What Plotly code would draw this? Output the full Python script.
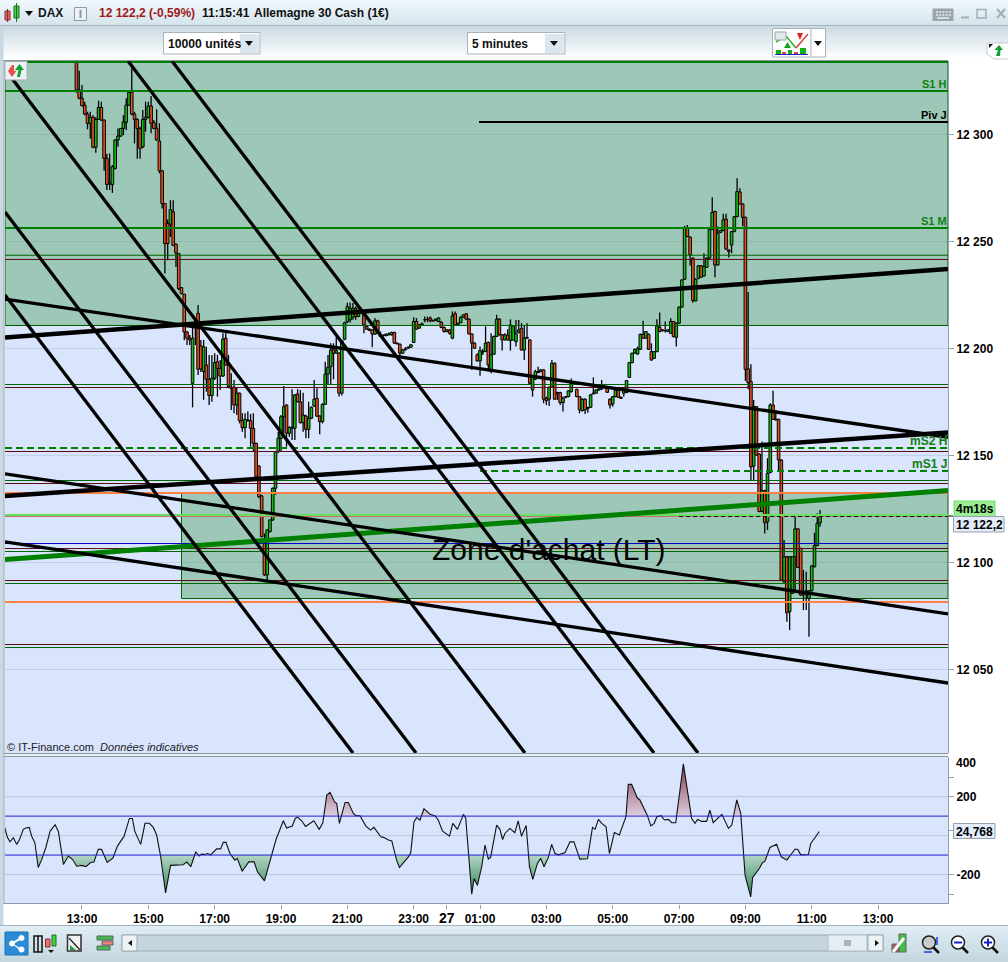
import plotly.graph_objects as go

# ---------- DATA: 5-minute DAX bars, first bar at 12:50 (hours counted from midnight of day 26) ----------
bar_first_hour = 12 + 50 / 60
bar_step_hours = 5 / 60

opens = [
12340,12320.8,12316.9,12313.7,12309.5,12305.2,12308,12294,12307,12312.6,
12306.7,12288.8,12276.8,12276.6,12284.1,12297.4,12299.2,12302.8,12305.6,12313.7,
12319.7,12309.5,12307,12302.7,12294.2,12307,12308,12313.3,12305.5,12302.8,
12296.9,12283,12267.7,12258.4,12258,12263.8,12248.7,12244.3,12228.4,12225.3,
12207.7,12204.8,12183.7,12210,12216.4,12201.2,12189.2,12192.3,12185.6,12178,
12186.1,12193.8,12190.7,12187.1,12204.8,12192.3,12181.9,12181.9,12173.6,12179.1,
12166.3,12163,12166.6,12166.3,12162.7,12155.7,12145.1,12131.1,12109,12094.2,
12114.4,12119.9,12134.7,12151.8,12158,12168.1,12173.5,12160.4,12163.2,12162.7,
12178.7,12175.1,12165.3,12168.4,12162.2,12167.4,12173.1,12176.7,12168.4,12165.8,
12173.9,12188,12191.5,12199.6,12197.8,12197.8,12179.1,12204.3,12212.5,12213.4,
12214.6,12218.8,12214.9,12218,12216.5,12210.3,12209,12208.7,12206.7,12212.9,
12206.4,12205.9,12206,12206.4,12206.4,12207.5,12202.5,12202,12197.8,12199.4,
12200.1,12200.6,12202.8,12212.6,12209.5,12211,12213.4,12213.4,12214.2,12212.9,
12213,12212.6,12212.3,12209.8,12207.9,12208.7,12204.8,12216.2,12211,12212.1,
12214.6,12216.2,12213.7,12206.8,12202.5,12197,12194.2,12198.3,12198.6,12202.8,
12190,12197.3,12205.6,12213.7,12206.4,12204,12206.3,12203.7,12204,12203.2,
12207.4,12209.4,12199.3,12204.8,12204,12180.6,12185.6,12188.7,12189.2,12190,
12176.7,12176.3,12181.9,12193.1,12179.4,12179.4,12174.7,12177.2,12177.5,12179.8,
12183.4,12180.9,12177.5,12171,12176.3,12172,12172.5,12178.8,12179.1,12180.6,
12181.1,12182.2,12182.2,12176.3,12174.1,12177.5,12180.6,12177.2,12179.1,12179.4,
12186.5,12193.4,12197.8,12197.4,12199.6,12206.6,12204.8,12206.6,12198.5,12195.4,
12198.5,12209.9,12208.7,12208.3,12207.9,12207.1,12212.6,12205.2,12211.8,12219.3,
12232.3,12256.2,12252,12242.2,12222.2,12232.8,12238.6,12233.9,12237.9,12242.2,
12255.7,12264,12239,12254.2,12255.1,12260.4,12246,12248.4,12254.6,12261.6,
12273.1,12267.5,12261.3,12190.5,12184.5,12145,12172.8,12150.7,12123.8,12133.6,
12119,12142,12173.6,12166.6,12166.9,12147.9,12091,12102.7,12077,12085.6,
12102.7,12115.7,12106.6,12084.8,12085.6,12083.2,12086.8,12098,12107.9,12118.6,
]
closes = [
12320.8,12316.9,12313.4,12309.5,12305.2,12308,12294,12307,12312.6,12306.7,
12288.8,12276.6,12277.4,12284.9,12297.4,12299.2,12302.8,12305.9,12313.7,12319.7,
12309.5,12307,12302.7,12293.5,12307,12308,12313.3,12305.2,12302.8,12297.4,
12283,12267.7,12249,12249,12264.9,12248.2,12244.6,12227.9,12225.6,12207.7,
12204.8,12204,12204.8,12212.4,12190.3,12190.4,12200.8,12185.6,12178,12186.1,
12193.4,12190.7,12187.1,12204.4,12192.3,12182.2,12181.4,12173.6,12179.1,12166.3,
12163,12166.9,12166.3,12162.7,12155.7,12140.1,12130.8,12112.1,12094.2,12115.2,
12119.9,12134.7,12151.8,12158,12168.1,12172.8,12160.4,12163.2,12162.7,12178.3,
12175.1,12165.3,12168.9,12162.2,12167.4,12172.5,12176.3,12168.4,12165.8,12173.9,
12188,12191.2,12199.3,12197.8,12199,12179.1,12203.6,12212,12219.5,12218.8,
12218.8,12214.9,12216.2,12216.5,12211,12209,12208.4,12206.7,12212.9,12207.9,
12205.6,12206.2,12206.7,12206.8,12207.5,12202.5,12202.2,12197.8,12199.4,12199.8,
12200.6,12201.7,12212.6,12209,12211,12211.5,12213.4,12213.5,12212.9,12213,
12213.7,12214.2,12209.8,12207.9,12208.7,12207.1,12215.2,12211,12211.8,12214.6,
12215.7,12213.7,12206.8,12202.5,12200.1,12194.2,12199,12198.6,12202.5,12192.3,
12197,12205.6,12213.7,12206.4,12204,12206.3,12204,12211,12210.5,12206.8,
12208.7,12199.3,12204.8,12205.2,12183.7,12186.9,12189.2,12189.2,12190,12176.3,
12175.6,12181.9,12193.1,12176.3,12178.8,12174.7,12176.7,12177.5,12180.2,12183.7,
12183.7,12177.5,12171.3,12176.3,12171.3,12172.4,12178.3,12179.1,12180.6,12181.1,
12182.2,12182.3,12179.5,12173.6,12177.5,12180.6,12177.2,12176.7,12180.6,12185,
12193.4,12197.8,12199.6,12199.9,12206.6,12204.8,12207.9,12199.6,12194.6,12198.5,
12210.5,12207.9,12208.3,12208.4,12208.7,12212.6,12205.5,12211.8,12219.3,12232,
12256.2,12252.3,12243.7,12222.4,12232.3,12238.6,12233.3,12238.2,12242.2,12255.7,
12263.5,12239,12253.8,12255.1,12260.1,12246.4,12245.3,12254.6,12261.6,12273.3,
12267.5,12261.3,12190.2,12184,12144.7,12172.8,12150.2,12123.8,12133.6,12118.6,
12141.7,12173.6,12166.9,12166.9,12147.9,12091.8,12102.7,12076.5,12102.7,12102.7,
12115.7,12097.7,12084.8,12085.6,12086.8,12086.8,12098.4,12107.9,12118.3,12122.2,
]
highs = [
12345,12329.8,12323.1,12315.3,12310.6,12310.6,12309,12308,12315.8,12315.3,
12307,12291,12291.1,12285.7,12297.7,12302.8,12303,12309,12316.9,12320,
12330.9,12310.6,12307.5,12303.6,12311.4,12315.3,12315.3,12318,12306.7,12311.7,
12305.2,12283.3,12268,12260.2,12269.3,12269.3,12249,12244.6,12228.7,12225.6,
12208,12206.3,12211,12213.3,12220.3,12204,12204,12200.8,12197,12197,
12197.8,12197,12194.6,12207.1,12207.8,12197,12188.4,12185.3,12181.9,12179.5,
12169.7,12169.7,12170.5,12169.4,12169.7,12156,12145.4,12131.5,12113.6,12115.5,
12120,12135,12152,12161.1,12168.9,12182.5,12174,12163.5,12181,12178.7,
12181,12180.6,12179.3,12169,12175.1,12172.9,12185.3,12181.4,12168.8,12174.4,
12193.8,12197,12202.4,12202.4,12205.5,12198.2,12204,12212.5,12221.4,12221.5,
12221.2,12219.6,12218,12218.8,12218,12210.6,12209.4,12209,12214.2,12213.4,
12207.9,12206.5,12207,12207.5,12207.8,12207.8,12202.8,12202.3,12199.7,12200.6,
12200.9,12202,12214.6,12214.2,12211.3,12212.1,12214.9,12214.9,12214.9,12213.5,
12214,12214.6,12212.6,12210.1,12209,12209,12217.3,12217.3,12212,12215,
12216,12216.6,12214,12207,12202.8,12197.8,12200.9,12199.7,12210.3,12203.2,
12207.1,12206,12215.7,12214.2,12206.7,12207.1,12209,12213.6,12211,12213.3,
12213.3,12211.8,12211,12211.8,12204.3,12187.1,12190,12191.5,12190.3,12190.3,
12177.5,12182.2,12194.6,12193.4,12179.8,12179.8,12177.5,12177.8,12180.6,12186,
12184,12181.2,12177.8,12176.7,12176.7,12172.8,12178.8,12186.5,12180.9,12181.4,
12185.3,12183,12182.5,12176.6,12177.8,12180.9,12180.9,12177.5,12180.9,12185.3,
12193.7,12198,12200,12200.9,12207,12212.9,12208.2,12207,12202.4,12198.8,
12213.6,12216.8,12209,12212.6,12209,12214.1,12212.9,12212.1,12219.6,12232.3,
12257.3,12257.7,12252.3,12242.5,12232.8,12239,12239,12244.5,12242.5,12256,
12270.7,12264.3,12257,12255.4,12262.9,12262.9,12246.4,12254.9,12261.9,12279.5,
12274.8,12267.8,12261.6,12226.4,12192.6,12175.9,12173.1,12151,12156.5,12134,
12148.7,12174.4,12180.2,12171.3,12167.2,12148.2,12110.5,12103,12103,12103,
12122.2,12116,12106.9,12096.5,12095.7,12087.1,12098.7,12113.9,12123,12124.5,
]
lows = [
12319.5,12316.4,12313,12309,12302.4,12298.1,12293.5,12291.4,12306.7,12306.4,
12283,12274,12274,12272.7,12283.6,12294.2,12298.9,12299.7,12302,12313.4,
12309,12295.8,12288.6,12288.6,12293.5,12301.3,12307.5,12300.5,12302.4,12297,
12281.8,12265.4,12235,12241.2,12252.1,12247.8,12238.1,12227.2,12225.3,12203.8,
12201.6,12201.6,12172.5,12201.6,12187.6,12189,12176,12179.8,12173.6,12175.1,
12185.3,12177.5,12180.6,12186.8,12192,12181.4,12171.3,12169.7,12168.9,12165,
12161.1,12158,12165.8,12154.1,12151.8,12139.8,12130,12111.8,12093.7,12091.8,
12114,12119.5,12131.6,12151,12151.8,12160.4,12154.1,12158.8,12157.2,12157.2,
12174.8,12165,12161.1,12158,12158,12167,12172.8,12168,12159.9,12165,
12173.6,12182.9,12183,12185.6,12197.5,12177.5,12178,12203.9,12211.8,12212.1,
12213.4,12213.4,12214.6,12216.2,12207.1,12208.7,12208.1,12200.6,12206.4,12207.5,
12205.3,12205.6,12205.7,12206,12206,12202.2,12201.9,12195.5,12197.5,12199,
12200.1,12200.3,12202.5,12208.7,12209.2,12210.6,12212.3,12212.3,12212.3,12212.6,
12213,12212.3,12209.5,12207.5,12207.6,12206.4,12204.3,12210.7,12210.7,12211.8,
12214.3,12213.4,12206.5,12190,12199.8,12193.9,12187.2,12197,12198.3,12189.2,
12188.4,12197,12205.3,12206,12199,12203.7,12203.7,12199,12203.7,12200.9,
12207.1,12199,12194.6,12204.5,12183.4,12177.5,12185.3,12188.4,12188.9,12174.4,
12173.6,12173.1,12181.6,12176,12175.9,12173.6,12170.5,12176.7,12177.2,12179.4,
12183.1,12177.2,12169.7,12170.6,12169.4,12170,12172.2,12178.5,12178.8,12180.3,
12180.6,12181.4,12179.2,12172,12172.8,12177.2,12176.9,12176.4,12177.5,12179.1,
12186.2,12193.1,12197.5,12197.1,12199.3,12204.5,12204.5,12199.3,12194.3,12195.1,
12198.2,12207.6,12207.9,12207.4,12207.8,12206.8,12205.2,12200.9,12211.5,12219,
12232,12252,12238.6,12221.4,12222,12232.3,12233,12233.6,12237.6,12241.9,
12255.4,12233.3,12238.7,12253.9,12254.8,12246,12242.5,12244.5,12254.3,12261.3,
12267.2,12257.2,12184.9,12180.9,12138.5,12138.5,12149.9,12123.5,12123.5,12113.6,
12115.2,12141.7,12166.6,12166.3,12143.2,12091.5,12090.7,12072.3,12068.4,12085.3,
12087,12097.4,12084.5,12077.8,12077.8,12065.3,12086.5,12097.7,12107.6,12116.7,
]

# Indicator (CCI-like) vertices: hour, value
cci_hours = [
10.67,10.75,10.83,10.93,11.03,11.11,11.23,11.31,11.41,11.48,11.58,11.68,11.78,11.91,12.04,12.19,12.29,12.44,12.59,12.72,
12.84,12.99,13.12,13.26,13.36,13.49,13.59,13.76,13.93,14.07,14.27,14.43,14.52,14.59,14.77,14.90,15.03,15.15,15.25,15.37,
15.52,15.67,16.05,16.16,16.28,16.43,16.53,16.61,16.71,16.78,16.88,17.06,17.18,17.26,17.34,17.46,17.61,17.68,17.83,18.03,
18.19,18.29,18.50,18.65,18.85,19.07,19.17,19.34,19.43,19.50,19.62,19.74,19.99,20.15,20.26,20.38,20.48,20.61,20.68,20.76,
20.93,21.03,21.18,21.26,21.38,21.56,21.70,21.80,22.01,22.09,22.24,22.34,22.49,22.57,22.84,22.91,23.01,23.09,23.19,23.31,
23.49,23.64,23.74,23.87,24.08,24.18,24.32,24.50,24.57,24.75,24.82,24.92,25.05,25.15,25.25,25.32,25.50,25.60,25.68,25.75,
25.90,26.05,26.15,26.25,26.39,26.49,26.59,26.73,26.83,26.93,27.06,27.16,27.26,27.36,27.56,27.71,27.83,28.01,28.24,28.39,
28.47,28.57,28.67,28.80,28.90,29.05,29.20,29.40,29.47,29.57,29.74,29.82,29.92,30.04,30.15,30.25,30.33,30.46,30.56,30.68,
30.78,30.90,31.13,31.38,31.48,31.56,31.68,31.83,31.93,32.03,32.29,32.49,32.59,32.74,32.86,32.99,33.16,33.22,33.42,33.51,
33.59,33.74,33.94,34.08,34.25,34.50,34.58,34.67,34.90,34.97,35.23,
]
cci_values = [
42,-9,-32,-11,-45,-23,32,39,42,-2,-37,-164,-126,-61,23,56,20,-148,-105,-123,
-157,-153,-159,-138,-136,-71,-71,-138,-116,-54,-3,88,88,23,-45,63,63,42,3,-105,
-294,-153,-150,-136,-160,-83,-105,-95,-97,-92,-99,-68,-68,-35,-35,-92,-126,-117,-183,-135,
-135,-186,-232,-135,-20,76,39,49,88,95,76,47,76,32,66,208,222,174,165,63,
170,170,114,102,102,49,28,42,-6,-9,-23,-27,-130,-164,-109,-88,71,93,80,138,
110,102,80,23,-3,63,32,109,88,-301,-220,-255,-160,-49,-121,-112,54,32,-20,11,
37,15,76,-3,52,-160,-225,-143,-117,-160,-112,-45,-92,-99,-88,-32,-32,-121,-119,42,
33,83,63,45,-92,16,3,97,263,263,194,183,148,105,50,63,97,102,80,83,
66,66,368,88,63,83,73,73,131,66,109,37,54,183,114,-203,-315,-215,-169,-140,
-131,-61,-45,-109,-126,-69,-71,-99,-97,-40,21,
]

hour_ticks = [13, 15, 17, 19, 21, 23, 24, 25, 27, 29, 31, 33, 35, 37]
hour_labels = ["13:00", "15:00", "17:00", "19:00", "21:00", "23:00",
               "<span style='font-size:14px'>27</span>", "01:00", "03:00", "05:00", "07:00", "09:00", "11:00", "13:00"]
price_ticks = [12300, 12250, 12200, 12150, 12100, 12050]
price_labels = ["12 300", "12 250", "12 200", "12 150", "12 100", "12 050"]

HOUR_MIN, HOUR_MAX = 10.679, 39.108
PRICE_MIN, PRICE_MAX = 12011.0, 12334.3
CCI_MIN, CCI_MAX = -348.6, 405.0

GREEN_DASH, NOW_DASH = "7px,4px", "4px,3px"

# Horizontal levels: price, colour, width, dash, first hour
levels = [
    (12333.83, "#008000", 2, "solid", HOUR_MIN),
    (12320.28, "#008000", 2, "solid", HOUR_MIN),
    (12305.80, "#000000", 2, "solid", 24.97),
    (12256.28, "#008000", 2, "solid", HOUR_MIN),
    (12243.55, "#006400", 1, "solid", HOUR_MIN),
    (12241.57, "#5a0a14", 1, "solid", HOUR_MIN),
    (12210.73, "#006400", 1, "solid", HOUR_MIN),
    (12183.16, "#006400", 1, "solid", HOUR_MIN),
    (12181.76, "#5a0a14", 1, "solid", HOUR_MIN),
    (12153.49, "#008000", 2, GREEN_DASH, HOUR_MIN),
    (12151.86, "#5a0a14", 1, "solid", HOUR_MIN),
    (12142.75, "#008000", 2, GREEN_DASH, 25.0),
    (12138.30, "#006400", 1, "solid", HOUR_MIN),
    (12136.90, "#5a0a14", 1, "solid", HOUR_MIN),
    (12132.47, "#ff8040", 2, "solid", HOUR_MIN),
    (12122.20, "#66e060", 2, "solid", HOUR_MIN),
    (12121.48, "#c87070", 1, "solid", HOUR_MIN),
    (12121.48, "#101010", 1, NOW_DASH, 31.0),
    (12108.87, "#0000c0", 1, "solid", HOUR_MIN),
    (12106.53, "#5a0a14", 1, "solid", HOUR_MIN),
    (12105.13, "#006400", 1, "solid", HOUR_MIN),
    (12091.58, "#5a0a14", 1, "solid", HOUR_MIN),
    (12090.20, "#006400", 1, "solid", HOUR_MIN),
    (12081.54, "#ff8040", 2, "solid", HOUR_MIN),
    (12061.68, "#5a0a14", 1, "solid", HOUR_MIN),
    (12060.28, "#006400", 1, "solid", HOUR_MIN),
]
# Sloped lines: start hour, start price, end hour, end price, colour, width
trendlines = [
    (HOUR_MIN, 12205.1, HOUR_MAX, 12237.1, "#000000", 4.5),
    (HOUR_MIN, 12131.1, HOUR_MAX, 12160.7, "#000000", 4.5),
    (HOUR_MIN, 12101.4, HOUR_MAX, 12133.6, "#008000", 5),
    (HOUR_MIN, 12223.1, HOUR_MAX, 12158.5, "#000000", 3.3),
    (HOUR_MIN, 12141.4, HOUR_MAX, 12076.0, "#000000", 3.3),
    (HOUR_MIN, 12109.6, HOUR_MAX, 12043.7, "#000000", 3.3),
    (HOUR_MIN, 12225.0, 21.17, 12011.0, "#000000", 3.3),
    (HOUR_MIN, 12263.8, 23.07, 12011.0, "#000000", 3.3),
    (HOUR_MIN, 12330.4, 26.355, 12011.0, "#000000", 3.3),
    (14.387, 12334.3, 30.245, 12011.0, "#000000", 3.3),
    (15.713, 12334.3, 31.571, 12011.0, "#000000", 3.3),
]
zones = [
    (HOUR_MIN, HOUR_MAX, 12210.73, 12334.3),
    (16.0, HOUR_MAX, 12083.18, 12132.47),
]

# ---------- FIGURE ----------
W, H = 1008, 962
FONT = "Liberation Sans"
def X(px): return px / W
def Y(py): return 1 - py / H

bar_hours = [bar_first_hour + i * bar_step_hours for i in range(len(opens))]

wx, wy = [], []
for t, o, c, h, l in zip(bar_hours, opens, closes, highs, lows):
    top, bot = max(o, c), min(o, c)
    if h > top:
        wx += [t, t, None]; wy += [h, top, None]
    if l < bot:
        wx += [t, t, None]; wy += [bot, l, None]

fig = go.Figure()
fig.add_trace(go.Bar(
    x=bar_hours, y=[c - o for o, c in zip(opens, closes)], base=opens, width=bar_step_hours * 0.95,
    marker=dict(color=["#10c010" if c >= o else "#e8501e" for o, c in zip(opens, closes)],
                line=dict(color="#000000", width=1)),
    xaxis="x", yaxis="y", showlegend=False))
fig.add_trace(go.Scatter(x=wx, y=wy, mode="lines", line=dict(color="#000000", width=1.3),
                         xaxis="x", yaxis="y", showlegend=False))

def clipped_fill(limit, above):
    """Polygon between the indicator line and a limit, with crossings located on each segment."""
    fx, fy = [cci_hours[0]], [limit]
    for i in range(len(cci_values)):
        v = cci_values[i]
        t = cci_hours[i]
        if i:
            v0, t0 = cci_values[i - 1], cci_hours[i - 1]
            if (v0 - limit) * (v - limit) < 0:
                fx.append(t0 + (limit - v0) / (v - v0) * (t - t0)); fy.append(limit)
        fx.append(t)
        fy.append(max(v, limit) if above else min(v, limit))
    fx.append(cci_hours[-1]); fy.append(limit)
    return fx, fy

fx, fy = clipped_fill(100, True)
fig.add_trace(go.Scatter(x=fx, y=fy, mode="lines", line=dict(width=0), fill="toself",
    fillgradient=dict(type="vertical", start=100, stop=400,
                      colorscale=[[0, "#dccfe0"], [1, "#7a2a3c"]]),
    xaxis="x2", yaxis="y2", showlegend=False))
fx, fy = clipped_fill(-100, False)
fig.add_trace(go.Scatter(x=fx, y=fy, mode="lines", line=dict(width=0), fill="toself",
    fillgradient=dict(type="vertical", start=-330, stop=-100,
                      colorscale=[[0, "#1f7a4a"], [1, "#b4d6c6"]]),
    xaxis="x2", yaxis="y2", showlegend=False))
fig.add_trace(go.Scatter(x=cci_hours, y=cci_values, mode="lines", line=dict(color="#101010", width=1.1),
                         xaxis="x2", yaxis="y2", showlegend=False))

shapes = []
def rect(x0, y0, x1, y1, fill, line=None, lw=1):
    shapes.append(dict(type="rect", xref="paper", yref="paper", x0=X(x0), x1=X(x1), y0=Y(y0), y1=Y(y1),
                       fillcolor=fill, line=dict(color=line or fill, width=lw if line else 0), layer="above"))
def circle(cx, cy, r, fill, line, lw=1.5):
    shapes.append(dict(type="circle", xref="paper", yref="paper", x0=X(cx - r), x1=X(cx + r), y0=Y(cy - r), y1=Y(cy + r),
                       fillcolor=fill, line=dict(color=line, width=lw), layer="above"))
def seg(x0, y0, x1, y1, color, lw=1):
    shapes.append(dict(type="line", xref="paper", yref="paper", x0=X(x0), x1=X(x1), y0=Y(y0), y1=Y(y1),
                       line=dict(color=color, width=lw), layer="above"))
def poly(pts, fill):
    path = "M " + " L ".join(f"{X(a):.5f},{Y(b):.5f}" for a, b in pts) + " Z"
    shapes.append(dict(type="path", xref="paper", yref="paper", path=path, fillcolor=fill,
                       line=dict(width=0), layer="above"))
def vgrad(x0, y0, x1, y1, c0, c1, n=10):
    for k in range(n):
        f = k / max(n - 1, 1)
        col = "rgb(" + ",".join(str(round(a + (b - a) * f)) for a, b in zip(c0, c1)) + ")"
        rect(x0, y0 + (y1 - y0) * k / n, x1, y0 + (y1 - y0) * (k + 1) / n + 0.5, col)

# zones below the candles
for x0, x1, p0, p1 in zones:
    shapes.append(dict(type="rect", xref="x", yref="y", x0=x0, x1=x1, y0=p0, y1=p1,
                       fillcolor="rgba(0,124,0,0.276)", line=dict(color="#006400", width=1), layer="below"))
# levels and trendlines above the candles
for p, col, w, dash, start in levels:
    shapes.append(dict(type="line", xref="x", yref="y", x0=start, x1=HOUR_MAX, y0=p, y1=p,
                       line=dict(color=col, width=w, dash=dash), layer="above"))
for t0, p0, t1, p1, col, w in trendlines:
    shapes.append(dict(type="line", xref="x", yref="y", x0=t0, x1=t1, y0=p0, y1=p1,
                       line=dict(color=col, width=w), layer="above"))
# indicator guides
for v in [200, 0, -200]:
    shapes.append(dict(type="line", xref="x2", yref="y2", x0=HOUR_MIN, x1=HOUR_MAX, y0=v, y1=v,
                       line=dict(color="#bcc6dc", width=1), layer="below"))
for v in [100, -100]:
    shapes.append(dict(type="line", xref="x2", yref="y2", x0=HOUR_MIN, x1=HOUR_MAX, y0=v, y1=v,
                       line=dict(color="#2020d0", width=1), layer="above"))

# window chrome
vgrad(0, 0, 1008, 26, (238, 247, 251), (214, 228, 236), 8)
seg(0, 25.5, 1008, 25.5, "#a3b3bf", 1)
vgrad(0, 26, 1008, 60, (205, 219, 228), (255, 255, 255), 12)
seg(0, 60.5, 948, 60.5, "#8a98a4", 1)
rect(0, 26, 3.5, 930, "#c9d9e3")
seg(4, 60, 4, 904, "#8a98a4", 1)
seg(948.5, 61, 948.5, 753, "#93a2ae", 1)
seg(948.5, 757, 948.5, 904, "#93a2ae", 1)
rect(4.5, 754, 948, 756.5, "#e8eef2")
seg(4, 753.5, 948, 753.5, "#8a98a4", 1)
seg(4, 756.5, 948, 756.5, "#8a98a4", 1)
seg(4, 903.5, 948, 903.5, "#8a98a4", 1)
seg(0, 925.5, 1008, 925.5, "#a3b3bf", 1)
vgrad(0, 926, 1008, 962, (222, 236, 243), (196, 215, 225), 10)

# header glyphs
rect(5, 11, 10, 20, "#f06060", "#803030")
seg(7.5, 9, 7.5, 22, "#803030")
rect(14, 6, 19, 18, "#40d040", "#207020")
seg(16.5, 3, 16.5, 22, "#207020")
poly([(25, 11), (33, 11), (29, 16)], "#101010")
rect(74.5, 7.5, 86.5, 20.5, "#eef2f4", "#8f9ba3")
seg(80.5, 10, 80.5, 18, "#8f9ba3", 2)
# dropdowns
for x0, x1 in [(163.5, 260), (467.5, 565)]:
    rect(x0, 32.5, x1, 54, "#ffffff", "#a8b4bc")
    rect(x1 - 20, 34, x1 - 1, 53, "#dbe6ee")
    poly([(x1 - 15, 41), (x1 - 7, 41), (x1 - 11, 46)], "#101010")
# indicator button
rect(772.5, 28.5, 825.5, 57, "#ffffff", "#a8b4bc")
seg(811, 29, 811, 57, "#a8b4bc")
poly([(814, 41), (822, 41), (818, 46)], "#101010")
rect(776, 50, 781, 54, "#10b010"); rect(782, 52, 786, 54, "#e04040"); rect(788, 50, 792, 54, "#10b010")
rect(794, 52, 798, 54, "#e04040"); rect(800, 48, 806, 54, "#10b010")
seg(775, 54.5, 808, 54.5, "#2020d0", 1)
seg(776, 42, 786, 36, "#30b030", 1.5); seg(786, 36, 796, 48, "#30b030", 1.5); seg(796, 48, 808, 34, "#d04040", 1.5)
rect(775, 32, 786, 40, "#e4e8ea", "#9aa6ae")
poly([(797, 33), (803, 33), (800, 40)], "#e02020")
poly([(784, 48), (791, 48), (787.5, 42)], "#10a010")
# keyboard + window buttons
rect(932.5, 8.5, 953.5, 21, "#9aa5ad")
for k in range(5):
    seg(936 + k * 3.2, 12, 938 + k * 3.2, 12, "#e8eef0", 1.5)
    seg(936 + k * 3.2, 15, 938 + k * 3.2, 15, "#e8eef0", 1.5)
seg(937, 18, 949, 18, "#e8eef0", 1.5)
seg(961, 17.5, 969, 17.5, "#a4aeb6", 2)
rect(977, 9.5, 986, 18, "rgba(0,0,0,0)", "#a4aeb6", 1.5)
seg(997, 9, 1005, 18, "#a4aeb6", 2); seg(1005, 9, 997, 18, "#a4aeb6", 2)
# corner arrows in the chart and right side
rect(5, 61.5, 27, 80, "#eef1f3", "#a5adb3")
poly([(8, 71), (12, 65), (14, 65), (14, 71), (16.5, 71), (12, 77)], "#e8504a")
poly([(15, 70), (19.5, 64), (24, 70), (21.5, 70), (20, 77), (17, 77), (18.5, 70)], "#10a030")
poly([(987, 43), (1008, 43), (1008, 59), (994, 59), (987, 54)], "#ffffff")
seg(987, 43, 987, 54, "#c3ccd3"); seg(987, 54, 994, 59, "#c3ccd3"); seg(994, 59, 1008, 59, "#c3ccd3")
seg(987, 43, 1008, 43, "#c3ccd3")
poly([(994.5, 50), (999, 45), (1003, 50), (1000.5, 50), (1000, 56), (996, 56), (998, 50)], "#10a030")
poly([(989, 44), (993, 44), (989, 48)], "#101010")
# price and indicator tags
seg(948.5, 516, 953, 516, "#000000", 1)
rect(954, 501, 995, 517, "#98ee90", "#70dc70", 1)
rect(953.5, 516.5, 1004, 532, "#e4ecfb", "#93a2ae", 1)
rect(953.5, 823.5, 995, 838.5, "#e4ecfb", "#93a2ae", 1)
# footer
rect(5, 932, 28, 955, "#2a8ad6", "#1f70b0")
poly([(11, 943), (21, 937), (22, 939), (13, 944), (22, 949), (21, 951)], "#ffffff")
for cx, cy in [(12, 943.5), (21.5, 938), (21.5, 949.5)]:
    circle(cx, cy, 2.7, "#ffffff", "#ffffff", 0.5)
rect(34, 936, 42, 952, "rgba(0,0,0,0)", "#101010", 1.5)
seg(38, 936, 38, 952, "#101010", 1.5)
rect(45.5, 939, 50, 947, "#f07070", "#803030")
rect(52, 935, 56, 946, "#40d040", "#207020")
poly([(48, 950), (54, 950), (51, 953)], "#101010")
rect(67.5, 935, 81, 951, "#f0f0f0", "#303030", 1.5)
seg(69, 938, 80, 950, "#303030", 1.5)
poly([(70, 950), (76, 950), (70, 945)], "#20a040")
rect(97, 936, 113, 940, "#40c050", "#606060")
rect(102, 941, 113, 945, "#f08080", "#606060")
rect(97, 946, 110, 950, "#40c050", "#606060")
rect(122, 935, 883, 951, "#c5d5de", "#9aaab4")
rect(122, 935, 137, 951, "#eef3f6", "#9aaab4")
poly([(132, 940), (132, 946), (128, 943)], "#101010")
rect(828, 935, 867, 951, "#e4edf2", "#b0bec8")
for k in range(3):
    seg(844, 941 + k * 2, 851, 941 + k * 2, "#707c86", 1)
rect(868, 935, 883, 951, "#eef3f6", "#9aaab4")
poly([(875, 940), (875, 946), (879, 943)], "#101010")
rect(899, 934, 906, 952, "#40c040", "#606060")
rect(892, 944, 899, 952, "#a06060", "#606060")
seg(893, 952, 904, 938, "#ffffff", 3)
for cx, col in [(929, "#c8ccd0"), (958, "#ffffff"), (988, "#ffffff")]:
    seg(cx + 4, 947, cx + 10, 953, "#101010", 2.5)
    circle(cx, 942.5, 6.5, col, "#202020", 1.5)
seg(954, 942.5, 962, 942.5, "#1020d0", 2)
seg(984, 942.5, 992, 942.5, "#1020d0", 2); seg(988, 938.5, 988, 946.5, "#1020d0", 2)
seg(937, 937, 937, 945, "#1040e0", 1.5); seg(924, 952, 932, 952, "#1040e0", 1.5)

def note(x, y, text, size=12, color="#000000", anchor="left", bold=True):
    annotations.append(dict(xref="paper", yref="paper", x=X(x), y=Y(y), text=f"<b>{text}</b>" if bold else text,
                            showarrow=False, xanchor=anchor, yanchor="middle",
                            font=dict(family=FONT, size=size, color=color)))

annotations = []
note(35.5, 13.5, "DAX", 12, "#101820")
note(96.5, 13.5, "12 122,2 (-0,59%)", 12, "#a01818")
note(199.5, 13.5, "11:15:41", 12, "#101010")
note(251.5, 13.5, "Allemagne 30 Cash (1€)", 12, "#101010")
note(165.5, 43.5, "10000 unités", 12.2, "#101010")
note(469.5, 43.5, "5 minutes", 12, "#101010")
note(949, 83.5, "S1 H", 11, "#108010", "right")
note(949, 115, "Piv J", 11, "#000000", "right")
note(949, 220.5, "S1 M", 11, "#108010", "right")
note(949, 441, "mS2 H", 12, "#108010", "right")
note(949, 463.5, "mS1 J", 12, "#108010", "right")
note(429.5, 549, "Zone d'achat (LT)", 30, "#000000", bold=False)
note(4.5, 747, "© IT-Finance.com &nbsp;<i>Données indicatives</i>", 11, "#202020", bold=False)
note(953.5, 509, "4m18s", 12, "#000000")
note(953.5, 524.5, "12 122,2", 12, "#000000")
note(953.5, 831.5, "24,768", 12, "#000000")
note(954, 763, "400", 12, "#000000")

fig.update_layout(
    width=W, height=H, autosize=False, margin=dict(l=0, r=0, t=0, b=0),
    paper_bgcolor="#ffffff", plot_bgcolor="#d9e5fd", showlegend=False, bargap=0,
    barmode="overlay", hovermode=False,
    xaxis=dict(domain=[X(5), X(948)], range=[HOUR_MIN, HOUR_MAX], showgrid=False, zeroline=False,
               showticklabels=False, ticks="", anchor="y", showline=False),
    yaxis=dict(domain=[Y(753), Y(61)], range=[PRICE_MIN, PRICE_MAX], side="right", anchor="x",
               tickvals=price_ticks, ticktext=price_labels, ticks="outside", ticklen=5, tickcolor="#93a2ae",
               tickfont=dict(family=FONT, size=12, color="#000000", weight="bold"),
               showgrid=True, gridcolor="rgba(90,100,130,0.16)", gridwidth=1, zeroline=False, showline=False),
    xaxis2=dict(domain=[X(5), X(948)], range=[HOUR_MIN, HOUR_MAX], anchor="y2", showgrid=False, zeroline=False,
                tickvals=hour_ticks, ticktext=hour_labels, ticks="outside", ticklen=4, tickcolor="#93a2ae",
                tickangle=0, tickfont=dict(family=FONT, size=12, color="#000000", weight="bold"), showline=False),
    yaxis2=dict(domain=[Y(903.5), Y(756.7)], range=[CCI_MIN, CCI_MAX], side="right", anchor="x2",
                tickvals=[300, 200, 24.768, -200, -300], ticktext=["", "200", "", "-200", ""],
                ticks="outside", ticklen=5, tickcolor="#93a2ae",
                tickfont=dict(family=FONT, size=12, color="#000000", weight="bold"),
                showgrid=False, zeroline=False, showline=False),
    shapes=shapes, annotations=annotations,
)

fig.write_html("out.html", config=dict(displayModeBar=False, staticPlot=True),
               post_script="document.body.style.margin='0';document.body.style.overflow='hidden';")
